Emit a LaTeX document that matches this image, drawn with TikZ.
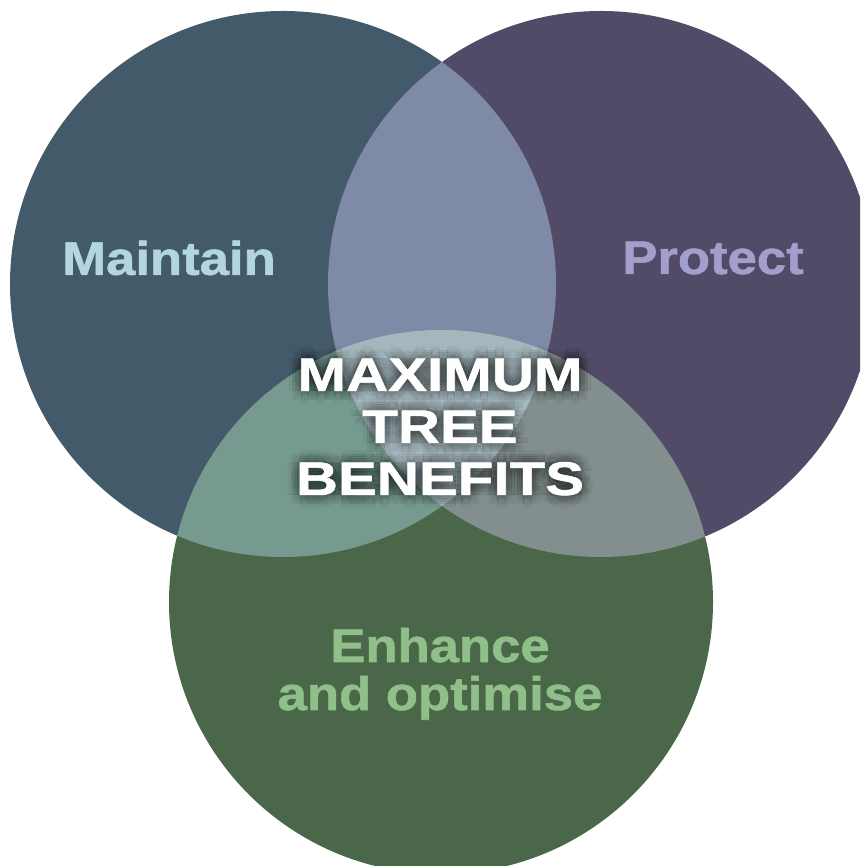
\documentclass[tikz,border=0pt]{standalone}
\usepackage{fontspec}
\usetikzlibrary{calc}
\newfontfamily\labfont[FakeStretch=1.12,FakeBold=1.2]{Liberation Sans}
\newfontfamily\cenfont[FakeStretch=1.24,FakeBold=1.2]{Liberation Sans}
\definecolor{cMaint}{HTML}{435A6A}
\definecolor{cProt}{HTML}{514B67}
\definecolor{cEnh}{HTML}{4B6749}
\definecolor{cLR}{HTML}{7F8BA6}
\definecolor{cLB}{HTML}{769A90}
\definecolor{cRB}{HTML}{828F8E}
\definecolor{cLRB}{HTML}{A4B7BC}
\definecolor{tMaint}{HTML}{B2D5DF}
\definecolor{tProt}{HTML}{A39FCC}
\definecolor{tEnh}{HTML}{8FC08A}
\tikzset{
  lab/.style={font=\labfont\bfseries\fontsize{47}{48}\selectfont, align=center, inner sep=0pt},
  cen/.style={font=\cenfont\bfseries\fontsize{47}{52}\selectfont, align=center, inner sep=0pt},
}
\newcommand{\CenTxt}{MAXIMUM\\TREE\\BENEFITS}
\begin{document}
\begin{tikzpicture}[x=1pt,y=1pt]
\useasboundingbox (0,0) rectangle (860,866);
\clip (0,0) rectangle (860,866);
\coordinate (L) at (283,582);
\coordinate (R) at (601,582);
\coordinate (B) at (441,264);
\def\rL{273}\def\rR{273}\def\rB{272}
% base circles
\fill[cMaint] (L) circle (\rL);
\fill[cProt] (R) circle (\rR);
\fill[cEnh] (B) circle (\rB);
% pairwise overlaps
\begin{scope}
  \clip (L) circle (\rL);
  \fill[cLR] (R) circle (\rR);
  \fill[cLB] (B) circle (\rB);
\end{scope}
\begin{scope}
  \clip (R) circle (\rR);
  \fill[cRB] (B) circle (\rB);
\end{scope}
\begin{scope}
  \clip (L) circle (\rL);
  \clip (R) circle (\rR);
  \fill[cLRB] (B) circle (\rB);
\end{scope}
% labels
\node[lab, text=tMaint] (maint) at (169,608) {Maintain};
\node[lab, text=tProt] (prot) at (713,608) {Protect};
\node[lab, text=tEnh, anchor=base] (enh) at (440,204) {Enhance};
\node[lab, text=tEnh, anchor=base] (opt) at (440,156) {and optimise};
% centre text with soft dark glow
\foreach \r in {3,6,9,12}{
  \foreach \a in {0,45,...,315}{
    \node[cen, text=black, text opacity=0.035] at ($(440,439)+(\a:\r)$) {\CenTxt};
  }
}
\node[cen, text=white] (centre) at (440,439) {\CenTxt};
\end{tikzpicture}
\end{document}
